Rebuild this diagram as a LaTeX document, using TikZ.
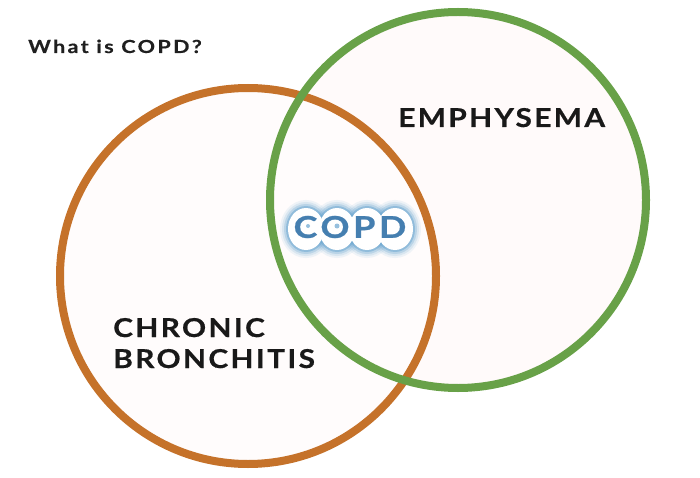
\documentclass[tikz,border=0pt]{standalone}
\usepackage{fontspec}
\setmainfont{Lato}
\newfontfamily\titlefont[LetterSpace=13,FakeStretch=1.2,FakeBold=0.4]{Lato}
\newfontfamily\labelfont[LetterSpace=9,FakeStretch=1.15,FakeBold=0.6]{Lato}
\newfontfamily\copdfont[LetterSpace=12,FakeStretch=1.2,FakeBold=0.8]{Lato}
\definecolor{bronchorange}{HTML}{C5722A}
\definecolor{emphgreen}{HTML}{68A148}
\definecolor{copdblue}{HTML}{457FB0}
\definecolor{glowblue}{HTML}{6AA6D0}
\tikzset{
  ring/.style={line width=8pt},
  title/.style={anchor=base west, inner sep=0pt, text=black!88,
    font=\titlefont\bfseries\fontsize{18}{20}\selectfont},
  disease/.style={anchor=base west, inner sep=0pt, align=left, text=black!90,
    font=\labelfont\bfseries\fontsize{26}{31}\selectfont},
  copd/.style={inner sep=0pt, text=copdblue, font=\copdfont\bfseries\fontsize{30}{32}\selectfont},
  bulb/.style={x radius=18pt, y radius=21pt}
}
\begin{document}
\begin{tikzpicture}[x=1pt,y=-1pt]
\useasboundingbox (0,0) rectangle (700,478);

% fills of the two sets and their overlap
\fill[black!1!red!1!white] (248,276) circle (188pt);
\fill[red!2!white] (458,200) circle (188pt);
\begin{scope}
  \clip (248,276) circle (188pt);
  \fill[black!4!red!1!white] (458,200) circle (188pt);
\end{scope}

% rings
\draw[ring, bronchorange] (248,276) circle (188pt);
\draw[ring, emphgreen] (458,200) circle (188pt);

\node[title] (question) at (28,53) {What is COPD?};
\node[disease] (emph) at (398,127) {EMPHYSEMA};
\node[disease] (chron) at (113,368) {CHRONIC\\BRONCHITIS};

% soft halo round the letters
\foreach \w/\o in {16/0.10, 12/0.16, 8/0.28, 4/0.5} {
  \foreach \bx in {306,337,367,395} {
    \draw[glowblue, line width=\w pt, opacity=\o] (\bx,229) ellipse [bulb];
  }
}
\foreach \bx in {306,337,367,395} {
  \fill[white] (\bx,229) ellipse [bulb];
}
\fill[glowblue, opacity=0.7] (337,226) circle (2.5pt);
\fill[glowblue, opacity=0.7] (308,226) circle (2pt);
\node[copd] (copd) at (350,227) {COPD};
\end{tikzpicture}
\end{document}
